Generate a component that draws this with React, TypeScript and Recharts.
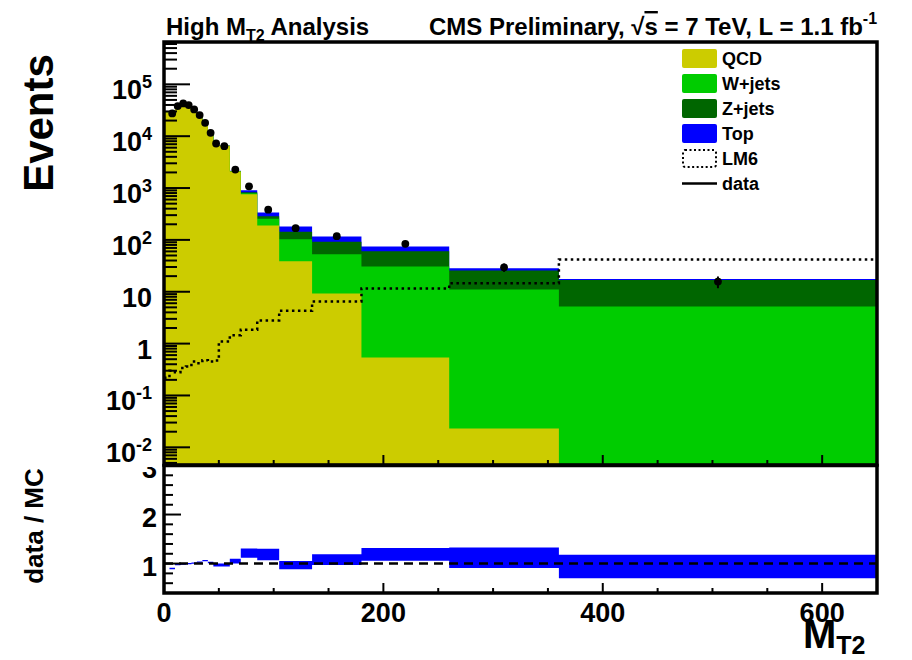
import React from "react";
import { ComposedChart, Area, Line, Scatter, ErrorBar, XAxis, YAxis, ReferenceLine } from "recharts";

const FONT = "'Liberation Sans', Arial, Helvetica, sans-serif";
const TICK_COLOR = "#000";

// MT2 binning (variable widths)
const binEdges = [0, 5, 10, 15, 20, 25, 30, 35, 40, 45, 50, 60, 70, 85, 105, 135, 180, 260, 360, 650];

// per-bin expected events, one entry per bin
const qcd = [29000, 30490, 38780, 43280, 39770, 32470, 24770, 17060, 11360, 7410, 6530, 2080, 755, 190, 38.7, 9.3, 0.54, 0.023, 0.001];
const wjets = [3, 5, 8, 10, 12, 13, 14, 14, 14, 14, 25, 22, 35, 66, 64, 43.5, 30, 11, 5.2];
const zjets = [2, 3, 4, 5, 6, 7, 8, 9, 9, 9, 16, 18, 36, 31, 40.5, 39, 29.8, 14.6, 11.7];
const topq = [2, 4, 6, 8, 10, 12, 13, 14, 15, 15, 28, 40, 78, 52, 38, 24, 14, 2.8, 0.8];
const lm6 = [0.22, 0.3, 0.28, 0.34, 0.36, 0.45, 0.42, 0.48, 0.45, 0.47, 1.1, 1.45, 1.85, 2.8, 4.3, 6.5, 11.6, 14.6, 41.7];

// observed data at bin centres
const dataCenters = [7.5, 12.5, 17.5, 22.5, 27.5, 32.5, 37.5, 42.5, 47.5, 55, 65, 77.5, 95, 120, 157.5, 220, 310, 505];
const dataCounts = [27500, 38000, 42900, 39800, 32800, 25500, 18100, 11600, 7230, 6410, 2270, 1080, 382, 168, 118, 84, 29.6, 15.7];
const dataErrors = [166, 195, 207, 200, 181, 160, 135, 108, 85, 80, 48, 33, 20, 13, 11, 9.2, 5.4, 4.0];

// data / MC per bin (first bin empty)
const ratio = [null, 0.9, 0.98, 0.99, 1.0, 1.01, 1.03, 1.06, 1.02, 0.97, 0.97, 1.05, 1.215, 1.185, 0.97, 1.08, 1.19, 1.12, 0.94];
const ratioErr = [null, 0.015, 0.012, 0.012, 0.012, 0.012, 0.013, 0.015, 0.015, 0.03, 0.03, 0.05, 0.095, 0.115, 0.085, 0.11, 0.13, 0.21, 0.24];

const xTicks = [0, 50, 100, 150, 200, 250, 300, 350, 400, 450, 500, 550, 600, 650];
const xMajor = [0, 200, 400, 600];
const xLabels = ["0", "200", "400", "600"];

const yMajor = [0.01, 0.1, 1, 10, 100, 1000, 10000, 100000];
const yLabels = [["10", "-2"], ["10", "-1"], ["1", ""], ["10", ""], ["10", "2"], ["10", "3"], ["10", "4"], ["10", "5"]];

const ratioTicks = [0.4, 0.6, 0.8, 1, 1.2, 1.4, 1.6, 1.8, 2, 2.2, 2.4, 2.6, 2.8, 3];
const ratioMajor = [1, 2, 3];

const legendNames = ["QCD", "W+jets", "Z+jets", "Top", "LM6", "data"];
const COLORS = { qcd: "#cccc00", wjets: "#00cc00", zjets: "#006600", top: "#0000ff" };

const X_MAX = 650;
const Y_MIN = 0.00456;
const Y_MAX = 655000;

const logMinorTicks: number[] = [];
[0.001, 0.01, 0.1, 1, 10, 100, 1000, 10000, 100000].forEach((d) => {
  for (let m = 1; m <= 9; m++) {
    const v = m * d;
    if (v >= Y_MIN && v <= Y_MAX) logMinorTicks.push(v);
  }
});

const stackRows = binEdges.map((x, i) => {
  const k = Math.min(i, qcd.length - 1);
  const q = qcd[k];
  const w = q + wjets[k];
  const z = w + zjets[k];
  const t = z + topq[k];
  return { x, qcd: q, wjets: w, zjets: z, top: t, lm6: lm6[k] };
});

const dataPoints = dataCenters.map((x, i) => ({ x, y: dataCounts[i], err: dataErrors[i] }));

const ratioRows = binEdges.slice(1).map((x, j) => {
  const k = Math.min(j + 1, ratio.length - 1);
  const r = ratio[k] as number;
  const e = ratioErr[k] as number;
  return { x, band: [r - e, r + e] };
});

const TOP_MARGIN = { top: 42, right: 35, bottom: 0, left: 104 };
const BOTTOM_MARGIN = { top: 25.5, right: 35, bottom: 0, left: 104 };

function TopXTick(props: any) {
  const { x, y, payload } = props;
  const major = xMajor.includes(payload.value);
  return <line x1={x} x2={x} y1={y} y2={y - (major ? 10 : 5)} stroke={TICK_COLOR} strokeWidth={2} />;
}

function BottomXTick(props: any) {
  const { x, y, payload } = props;
  const idx = xMajor.indexOf(payload.value);
  return (
    <g>
      <line x1={x} x2={x} y1={y} y2={y - (idx >= 0 ? 10 : 5)} stroke={TICK_COLOR} strokeWidth={2} />
      {idx >= 0 && (
        <text x={x} y={y + 29} textAnchor="middle" fontFamily={FONT} fontWeight="bold" fontSize={27} fill="#000">
          {xLabels[idx]}
        </text>
      )}
    </g>
  );
}

function LogYTick(props: any) {
  const { x, y, payload } = props;
  const v = payload.value;
  const idx = yMajor.findIndex((m) => Math.abs(Math.log10(m) - Math.log10(v)) < 1e-6);
  const major = idx >= 0;
  return (
    <g>
      <line x1={x} x2={x + (major ? 26 : 13)} y1={y} y2={y} stroke={TICK_COLOR} strokeWidth={2} />
      {major && (
        <text x={x - 12} y={y + 15} textAnchor="end" fontFamily={FONT} fontWeight="bold" fontSize={27} fill="#000">
          <tspan>{yLabels[idx][0]}</tspan>
          {yLabels[idx][1] && (
            <tspan dy={-11} fontSize={18}>
              {yLabels[idx][1]}
            </tspan>
          )}
        </text>
      )}
    </g>
  );
}

function RatioYTick(props: any) {
  const { x, y, payload } = props;
  const major = ratioMajor.some((m) => Math.abs(m - payload.value) < 1e-6);
  return (
    <g>
      <line x1={x} x2={x + (major ? 17 : 9)} y1={y} y2={y} stroke={TICK_COLOR} strokeWidth={2} />
      {major && (
        <text x={x - 7} y={y + 12.5} textAnchor="end" fontFamily={FONT} fontWeight="bold" fontSize={27} fill="#000">
          {Math.round(payload.value)}
        </text>
      )}
    </g>
  );
}

function DataDot(props: any) {
  const { cx, cy } = props;
  if (cx == null || cy == null) return null;
  return <circle cx={cx} cy={cy} r={3.9} fill="#000" />;
}

// axes are declared twice: hidden (for geometry) under the series, visible in an overlay on top
function topAxes(visible: boolean) {
  return [
    <XAxis key="x" dataKey="x" type="number" domain={[0, X_MAX]} allowDataOverflow ticks={xTicks} interval={0} height={2} tickSize={0} tickMargin={0} tickLine={false} axisLine={false} tick={visible ? <TopXTick /> : false} />,
    <YAxis key="y" type="number" scale="log" domain={[Y_MIN, Y_MAX]} allowDataOverflow ticks={logMinorTicks} interval={0} width={60} tickSize={0} tickMargin={0} tickLine={false} axisLine={false} tick={visible ? <LogYTick /> : false} />,
  ];
}

function bottomAxes(visible: boolean) {
  return [
    <XAxis key="x" dataKey="x" type="number" domain={[0, X_MAX]} allowDataOverflow ticks={xTicks} interval={0} height={67} tickSize={0} tickMargin={0} tickLine={false} axisLine={false} tick={visible ? <BottomXTick /> : false} />,
    <YAxis key="y" type="number" domain={[0.4, 3]} allowDataOverflow ticks={ratioTicks} interval={0} width={60} tickSize={0} tickMargin={0} tickLine={false} axisLine={false} tick={visible ? <RatioYTick /> : false} />,
  ];
}

function MainChart() {
  return (
    <ComposedChart width={912} height={467} data={stackRows} margin={TOP_MARGIN}>
      {topAxes(false)}
      <Area type="stepAfter" dataKey="top" fill={COLORS.top} fillOpacity={1} stroke="none" baseValue={Y_MIN} dot={false} activeDot={false} isAnimationActive={false} />
      <Area type="stepAfter" dataKey="zjets" fill={COLORS.zjets} fillOpacity={1} stroke="none" baseValue={Y_MIN} dot={false} activeDot={false} isAnimationActive={false} />
      <Area type="stepAfter" dataKey="wjets" fill={COLORS.wjets} fillOpacity={1} stroke="none" baseValue={Y_MIN} dot={false} activeDot={false} isAnimationActive={false} />
      <Area type="stepAfter" dataKey="qcd" fill={COLORS.qcd} fillOpacity={1} stroke="none" baseValue={Y_MIN} dot={false} activeDot={false} isAnimationActive={false} />
      <Line type="stepAfter" dataKey="lm6" stroke="#000" strokeWidth={2.5} strokeDasharray="2.5 3.5" dot={false} activeDot={false} isAnimationActive={false} />
    </ComposedChart>
  );
}

function MainOverlay() {
  return (
    <ComposedChart width={912} height={467} data={stackRows} margin={TOP_MARGIN}>
      {topAxes(true)}
      <Scatter data={dataPoints} dataKey="y" fill="#000" shape={<DataDot />} isAnimationActive={false}>
        <ErrorBar dataKey="err" direction="y" width={0} stroke="#000" strokeWidth={2} />
      </Scatter>
    </ComposedChart>
  );
}

function RatioChart() {
  return (
    <ComposedChart width={912} height={220} data={ratioRows} margin={BOTTOM_MARGIN}>
      {bottomAxes(false)}
      <Area type="stepAfter" dataKey="band" fill={COLORS.top} fillOpacity={1} stroke="none" dot={false} activeDot={false} isAnimationActive={false} />
      <ReferenceLine y={1} stroke="#000" strokeWidth={2.5} strokeDasharray="9 6" />
    </ComposedChart>
  );
}

function RatioOverlay() {
  return (
    <ComposedChart width={912} height={220} data={ratioRows} margin={BOTTOM_MARGIN}>
      {bottomAxes(true)}
    </ComposedChart>
  );
}

function Decorations() {
  const legendFills = [COLORS.qcd, COLORS.wjets, COLORS.zjets, COLORS.top];
  return (
    <svg width={912} height={660} style={{ position: "absolute", left: 0, top: 0, zIndex: 4, pointerEvents: "none" }} fontFamily={FONT}>
      {/* pad frames */}
      <rect x={164} y={42} width={713} height={423} fill="none" stroke="#000" strokeWidth={3.5} />
      <rect x={164} y={465.5} width={713} height={127.5} fill="none" stroke="#000" strokeWidth={3.5} />

      <text x={166} y={35} fontSize={24} fontWeight="bold" fill="#000">
        High M<tspan fontSize={16} dy={6}>T2</tspan>
        <tspan dy={-6}> Analysis</tspan>
      </text>
      <text x={429} y={35} fontSize={24} fontWeight="bold" fill="#000">
        CMS Preliminary, √<tspan textDecoration="overline">s</tspan> = 7 TeV, L = 1.1 fb
        <tspan fontSize={16} dy={-11}>-1</tspan>
      </text>

      <text transform="translate(53,123) rotate(-90)" textAnchor="middle" fontSize={42} fontWeight="bold" fill="#000">
        Events
      </text>
      <text transform="translate(43,526) rotate(-90)" textAnchor="middle" fontSize={26} fontWeight="bold" fill="#000">
        data / MC
      </text>
      <text x={803} y={648} fontSize={40} fontWeight="bold" fill="#000">
        M<tspan fontSize={25} dy={6}>T2</tspan>
      </text>

      {legendNames.map((name, i) => {
        const cy = 58.5 + 25 * i;
        return (
          <g key={name}>
            {i < 4 && <rect x={682} y={cy - 9.5} width={35} height={19} rx={2} fill={legendFills[i]} />}
            {i === 4 && <rect x={683} y={cy - 8.5} width={33} height={17} rx={2} fill="none" stroke="#000" strokeWidth={2} strokeDasharray="2 2.5" />}
            {i === 5 && <line x1={682} x2={717} y1={cy} y2={cy} stroke="#000" strokeWidth={2.5} />}
            <text x={722} y={cy + 6.5} fontSize={18} fontWeight="bold" fill="#000">
              {name}
            </text>
          </g>
        );
      })}
    </svg>
  );
}

const layer = (top: number, z: number, extra: React.CSSProperties = {}): React.CSSProperties => ({
  position: "absolute",
  left: 0,
  top,
  zIndex: z,
  ...extra,
});

export default function App() {
  return (
    <div style={{ position: "absolute", left: 0, top: 0, width: 912, height: 660, background: "#fff", overflow: "hidden", fontFamily: FONT }}>
      <div style={layer(440, 0)}>
        <RatioChart />
      </div>
      <div style={layer(440, 1)}>
        <RatioOverlay />
      </div>
      <div style={layer(0, 2, { width: 912, height: 467, background: "#fff", overflow: "hidden" })}>
        <MainChart />
      </div>
      <div style={layer(0, 3, { width: 912, height: 467, overflow: "hidden" })}>
        <MainOverlay />
      </div>
      <Decorations />
    </div>
  );
}
